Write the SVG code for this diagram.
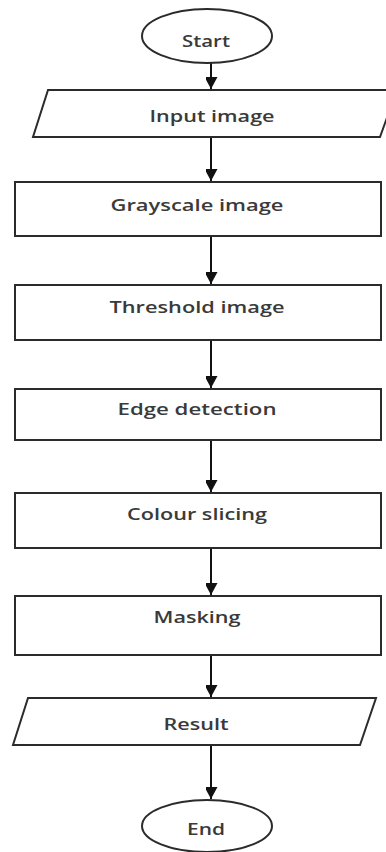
<svg xmlns="http://www.w3.org/2000/svg" width="386" height="852" viewBox="0 0 386 852">
<style>
.shape{fill:#fff;stroke:#2b2b2b;stroke-width:2}
.lbl{font-family:"Open Sans","Noto Sans","Liberation Sans",sans-serif;font-size:17px;font-weight:600;fill:#3a3a3a;text-anchor:middle}
.conn{stroke:#111;stroke-width:2;fill:none}
</style>
<defs>
<marker id="ah" markerUnits="userSpaceOnUse" markerWidth="14" markerHeight="12" refX="12" refY="6.5" orient="auto">
<path d="M0,0 L12,6.5 L0,13 Z" fill="#111"/>
</marker>
</defs>
<rect width="386" height="852" fill="#fff"/>
<g id="connectors">
<line class="conn" x1="211" y1="63" x2="211" y2="89" marker-end="url(#ah)"/>
<line class="conn" x1="211" y1="137" x2="211" y2="181" marker-end="url(#ah)"/>
<line class="conn" x1="211" y1="236" x2="211" y2="284" marker-end="url(#ah)"/>
<line class="conn" x1="211" y1="340" x2="211" y2="388" marker-end="url(#ah)"/>
<line class="conn" x1="211" y1="440" x2="211" y2="492" marker-end="url(#ah)"/>
<line class="conn" x1="211" y1="548" x2="211" y2="595" marker-end="url(#ah)"/>
<line class="conn" x1="211" y1="655" x2="211" y2="697" marker-end="url(#ah)"/>
<line class="conn" x1="211" y1="745" x2="211" y2="799" marker-end="url(#ah)"/>
</g>
<g id="start">
<ellipse class="shape" cx="207" cy="36" rx="65" ry="27"/>
<text class="lbl" x="206" y="47" textLength="48" lengthAdjust="spacingAndGlyphs">Start</text>
</g>
<g id="input">
<polygon class="shape" points="48,90 397,90 380,137 33,137"/>
<text class="lbl" x="212" y="122" textLength="125" lengthAdjust="spacingAndGlyphs">Input image</text>
</g>
<g id="grayscale">
<rect class="shape" x="15" y="182" width="366" height="54"/>
<text class="lbl" x="197" y="211" textLength="173" lengthAdjust="spacingAndGlyphs">Grayscale image</text>
</g>
<g id="threshold">
<rect class="shape" x="15" y="285" width="366" height="55"/>
<text class="lbl" x="197" y="313" textLength="175" lengthAdjust="spacingAndGlyphs">Threshold image</text>
</g>
<g id="edge">
<rect class="shape" x="15" y="389" width="366" height="51"/>
<text class="lbl" x="197" y="415" textLength="159" lengthAdjust="spacingAndGlyphs">Edge detection</text>
</g>
<g id="colour">
<rect class="shape" x="15" y="493" width="366" height="55"/>
<text class="lbl" x="197" y="520" textLength="140" lengthAdjust="spacingAndGlyphs">Colour slicing</text>
</g>
<g id="masking">
<rect class="shape" x="15" y="596" width="366" height="59"/>
<text class="lbl" x="197" y="623" textLength="87" lengthAdjust="spacingAndGlyphs">Masking</text>
</g>
<g id="result">
<polygon class="shape" points="28,698 376,698 360,745 13,745"/>
<text class="lbl" x="196" y="730" textLength="65" lengthAdjust="spacingAndGlyphs">Result</text>
</g>
<g id="end">
<ellipse class="shape" cx="207" cy="826" rx="65" ry="26"/>
<text class="lbl" x="206" y="835" textLength="38" lengthAdjust="spacingAndGlyphs">End</text>
</g>
</svg>
